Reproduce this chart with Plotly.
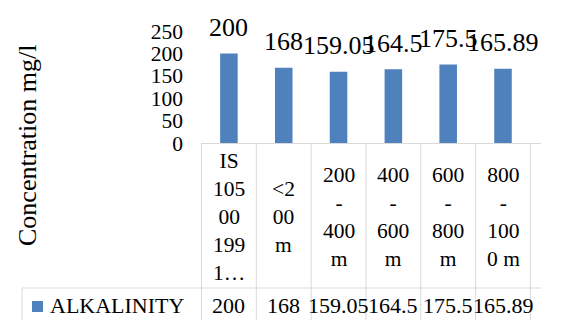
import plotly.graph_objects as go

# Sampling locations (column headers, wrapped as they appear in the data table)
categories = [
    "IS<br>105<br>00<br>199<br>1…",
    "&lt;2<br>00<br>m",
    "200<br>-<br>400<br>m",
    "400<br>-<br>600<br>m",
    "600<br>-<br>800<br>m",
    "800<br>-<br>100<br>0 m",
]
series_name = "ALKALINITY"
alkalinity = [200, 168, 159.05, 164.5, 175.5, 165.89]
y_ticks = [0, 50, 100, 150, 200, 250]
y_title = "Concentration mg/l"

# ---- layout geometry (pixels) ----
W, H = 562, 320
L, R, T, B = 201, 21, 31, 177
PW, PH = W - L - R, H - T - B

BAR = "#4f81bd"
GRID = "#d9d9d9"
FONT = "Liberation Serif, Times New Roman, serif"
TXT = "#000000"


def px_x(p):
    return (p - L) / PW


def px_y(p):
    return (H - B - p) / PH


def fmt(v):
    return f"{v:g}"


fig = go.Figure()
fig.add_trace(go.Bar(
    x=categories, y=alkalinity, name=series_name,
    marker=dict(color=BAR, line=dict(width=0)),
    showlegend=False,
))

annotations = []
shapes = []

# value labels above the bars
for c, v in zip(categories, alkalinity):
    annotations.append(dict(
        x=c, y=v, xref="x", yref="y", text=fmt(v), showarrow=False,
        yanchor="middle", xanchor="center", yshift=26,
        font=dict(family=FONT, size=26, color=TXT),
    ))

# y-axis title
annotations.append(dict(
    x=px_x(27), y=px_y(146), xref="paper", yref="paper", text=y_title,
    textangle=-90, showarrow=False, xanchor="center", yanchor="middle",
    font=dict(family=FONT, size=26, color=TXT),
))

# data table: header row (category names) and value row
for c, v in zip(categories, alkalinity):
    annotations.append(dict(
        x=c, y=px_y(217), xref="x", yref="paper", text=c, showarrow=False,
        xanchor="center", yanchor="middle",
        font=dict(family=FONT, size=21.5, color=TXT),
    ))
    annotations.append(dict(
        x=c, y=px_y(305), xref="x", yref="paper", text=fmt(v), showarrow=False,
        xanchor="center", yanchor="middle",
        font=dict(family=FONT, size=22, color=TXT),
    ))

# series name in the table with its colour key
annotations.append(dict(
    x=px_x(48), y=px_y(305), xref="paper", yref="paper", text=series_name,
    showarrow=False, xanchor="left", yanchor="middle",
    font=dict(family=FONT, size=22, color=TXT),
))
shapes.append(dict(
    type="rect", xref="paper", yref="paper",
    x0=px_x(32), x1=px_x(43), y0=px_y(312), y1=px_y(301),
    fillcolor=BAR, line=dict(width=0),
))

# table borders
n = len(categories)
for i in range(n + 1):
    shapes.append(dict(
        type="line", xref="x", yref="paper",
        x0=i - 0.5, x1=i - 0.5, y0=0, y1=px_y(330),
        line=dict(color=GRID, width=1),
    ))
shapes.append(dict(
    type="line", xref="paper", yref="paper",
    x0=px_x(22), x1=1, y0=px_y(288), y1=px_y(288),
    line=dict(color=GRID, width=1),
))
shapes.append(dict(
    type="line", xref="paper", yref="paper",
    x0=px_x(22), x1=px_x(22), y0=px_y(288), y1=px_y(330),
    line=dict(color=GRID, width=1),
))

fig.update_layout(
    width=W, height=H,
    margin=dict(l=L, r=R, t=T, b=B, pad=0),
    paper_bgcolor="white", plot_bgcolor="white",
    bargap=0.68,
    annotations=annotations, shapes=shapes,
    font=dict(family=FONT, color=TXT),
)
fig.update_xaxes(
    type="category", showticklabels=False, ticks="",
    showline=True, linecolor=GRID, linewidth=1,
    showgrid=False, zeroline=False, fixedrange=True,
)
fig.update_yaxes(
    range=[0, 250], tickvals=y_ticks, ticktext=[str(t) for t in y_ticks],
    showgrid=False, zeroline=False, showline=False, ticks="",
    ticklabelstandoff=17,
    tickfont=dict(family=FONT, size=21.5, color=TXT),
    fixedrange=True,
)

fig.write_html("out.html", config={"displayModeBar": False})
